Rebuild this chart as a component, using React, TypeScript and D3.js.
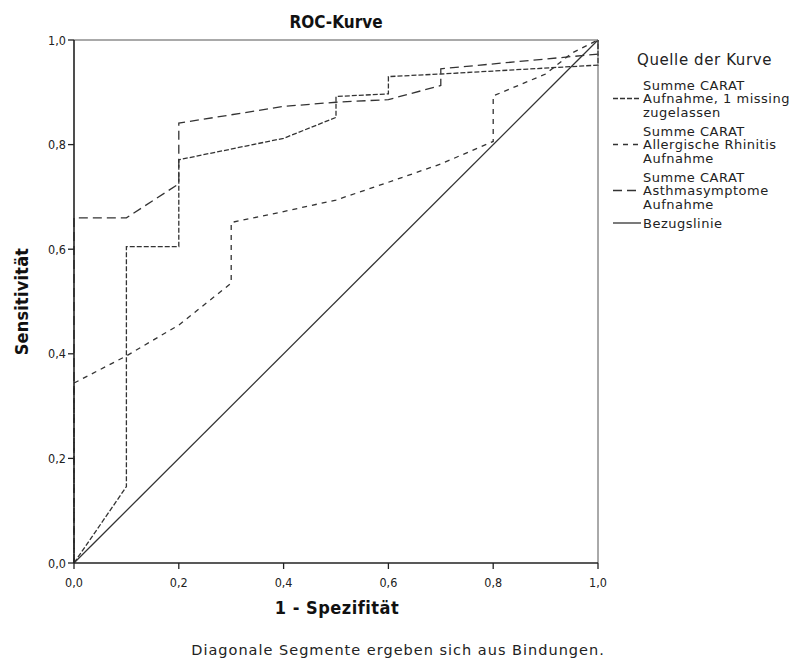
import React from "react";
import * as d3 from "d3";

const xTicks = [0, 0.2, 0.4, 0.6, 0.8, 1.0];
const yTicks = [0, 0.2, 0.4, 0.6, 0.8, 1.0];

const missingX = [0, 0.1, 0.1, 0.2, 0.2, 0.4, 0.5, 0.5, 0.6, 0.6, 0.7, 1.0, 1.0];
const missingY = [0, 0.146, 0.605, 0.605, 0.771, 0.812, 0.852, 0.892, 0.897, 0.93, 0.935, 0.952, 1.0];

const rhinitisX = [0, 0, 0.1, 0.2, 0.3, 0.3, 0.4, 0.5, 0.6, 0.7, 0.8, 0.8, 0.9, 0.95, 1.0];
const rhinitisY = [0, 0.344, 0.396, 0.455, 0.535, 0.651, 0.672, 0.694, 0.728, 0.763, 0.806, 0.893, 0.935, 0.975, 1.0];

const asthmaX = [0, 0, 0.1, 0.2, 0.2, 0.4, 0.5, 0.6, 0.7, 0.7, 1.0, 1.0];
const asthmaY = [0, 0.66, 0.66, 0.725, 0.841, 0.873, 0.881, 0.886, 0.913, 0.945, 0.973, 1.0];

const refX = [0, 1];
const refY = [0, 1];

const legendLabels = [
  ["Summe CARAT", "Aufnahme, 1 missing", "zugelassen"],
  ["Summe CARAT", "Allergische Rhinitis", "Aufnahme"],
  ["Summe CARAT", "Asthmasymptome", "Aufnahme"],
  ["Bezugslinie"],
];

const series = [
  { xs: missingX, ys: missingY, dash: "5,2" },
  { xs: rhinitisX, ys: rhinitisY, dash: "5,5" },
  { xs: asthmaX, ys: asthmaY, dash: "9,5" },
  { xs: refX, ys: refY, dash: "" },
];

const FONT = "'DejaVu Sans Condensed', 'DejaVu Sans', sans-serif";
const FONT2 = "'DejaVu Sans', sans-serif";

export default function App() {
  const W = 793, H = 660;
  const x0 = 74, x1 = 598, yT = 40, yB = 563;
  const x = d3.scaleLinear().domain([0, 1]).range([x0, x1]);
  const y = d3.scaleLinear().domain([0, 1]).range([yB, yT]);
  const fmt = (v: number) => d3.format(".1f")(v).replace(".", ",");
  const lineGen = d3.line<[number, number]>().x(d => x(d[0])).y(d => y(d[1]));
  const col = "#333";

  const legendStarts = [85, 131, 177, 223];
  return (
    <svg width={W} height={H} style={{ position: "absolute", left: 0, top: 0, background: "#fff" }}>
      <rect x={0} y={0} width={W} height={H} fill="#fff" />
      <text x={336} y={28} textAnchor="middle" fontFamily={FONT} fontWeight="bold" fontSize={17} fill="#111">ROC-Kurve</text>
      {series.map((s, i) => (
        <path key={i} d={lineGen(s.xs.map((v, j) => [v, s.ys[j]]) as [number, number][]) || ""}
          fill="none" stroke={col} strokeWidth={1.3} strokeDasharray={s.dash || undefined} />
      ))}
      {/* frame */}
      <line x1={x0} x2={x1} y1={yT} y2={yT} stroke="#555" strokeWidth={1} />
      <line x1={x1} x2={x1} y1={yT} y2={yB} stroke="#555" strokeWidth={1} />
      <line x1={x0} x2={x0} y1={yT} y2={yB} stroke="#222" strokeWidth={1.6} />
      <line x1={x0} x2={x1} y1={yB} y2={yB} stroke="#222" strokeWidth={1.6} />
      {yTicks.map(t => (
        <g key={"y" + t}>
          <line x1={x0 - 6} x2={x0} y1={y(t)} y2={y(t)} stroke="#222" strokeWidth={1.3} />
          <text x={x0 - 8} y={y(t) + 4.5} textAnchor="end" fontFamily={FONT} fontSize={12.5} fill="#222">{fmt(t)}</text>
        </g>
      ))}
      {xTicks.map(t => (
        <g key={"x" + t}>
          <line x1={x(t)} x2={x(t)} y1={yB} y2={yB + 6} stroke="#222" strokeWidth={1.3} />
          <text x={x(t)} y={yB + 23.5} textAnchor="middle" fontFamily={FONT} fontSize={12.5} fill="#222">{fmt(t)}</text>
        </g>
      ))}
      <text x={337} y={614} textAnchor="middle" fontFamily={FONT} fontWeight="bold" fontSize={18} letterSpacing={0.5} fill="#111">1 - Spezifität</text>
      <text transform={`translate(28,${(yT + yB) / 2}) rotate(-90)`} textAnchor="middle" fontFamily={FONT} fontWeight="bold" fontSize={18} letterSpacing={0.2} fill="#111">Sensitivität</text>
      <text x={398} y={655} textAnchor="middle" fontFamily={FONT2} fontSize={14.5} letterSpacing={1} fill="#222">Diagonale Segmente ergeben sich aus Bindungen.</text>
      {/* legend */}
      <text x={637} y={65} fontFamily={FONT2} fontSize={15} letterSpacing={0.6} fill="#222">Quelle der Kurve</text>
      {legendLabels.map((lines, i) => {
        const start = legendStarts[i];
        const symY = lines.length > 1 ? start + 13.5 : start;
        return (
          <g key={"lg" + i}>
            <line x1={613} x2={641} y1={symY} y2={symY} stroke={col} strokeWidth={1.3}
              strokeDasharray={series[i].dash || undefined} />
            {lines.map((ln, k) => (
              <text key={k} x={643} y={start + k * 13.5 + 4.5} fontFamily={FONT2} fontSize={13} letterSpacing={0.5} fill="#222">{ln}</text>
            ))}
          </g>
        );
      })}
    </svg>
  );
}
